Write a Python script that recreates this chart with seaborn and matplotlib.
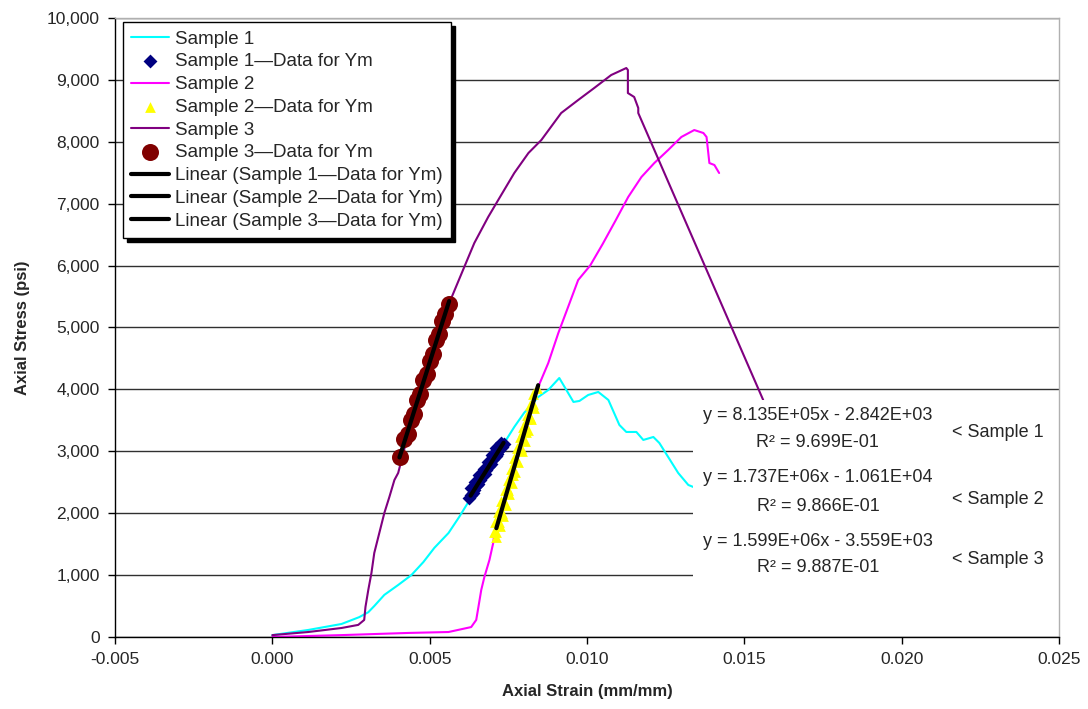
import matplotlib
matplotlib.use("Agg")
import matplotlib.pyplot as plt
from matplotlib.patches import Rectangle
import seaborn as sns

##################################################################################################
# Stress-strain data
s1_strain = [0.0, 0.00114, 0.0022, 0.00276, 0.00305, 0.00324, 0.00356, 0.0040, 0.00442, 0.0048,
             0.00515, 0.0056, 0.00594, 0.00623, 0.0066, 0.0070, 0.00737, 0.00769, 0.0080, 0.00845,
             0.00877, 0.00912, 0.00957, 0.00976, 0.01004, 0.01036, 0.01068, 0.01103, 0.01125,
             0.01157, 0.01179, 0.01211, 0.0123, 0.01258, 0.0129, 0.01322, 0.01338]
s1_stress = [30, 113, 210, 320, 400, 500, 680, 840, 1000, 1210,
             1440, 1680, 1940, 2180, 2500, 2850, 3134, 3393, 3619, 3877,
             3990, 4184, 3797, 3813, 3910, 3958, 3829, 3425, 3312,
             3312, 3183, 3231, 3134, 2908, 2649, 2456, 2423]

s2_strain = [0.0, 0.0022, 0.00432, 0.0056, 0.00632, 0.00648, 0.00655, 0.00664, 0.00674, 0.0069,
             0.00702, 0.00705, 0.0075, 0.0080, 0.00845, 0.00877, 0.00909, 0.0094, 0.00972, 0.0101,
             0.0105, 0.0109, 0.01131, 0.01173, 0.01214, 0.01258, 0.0130, 0.01341, 0.0137, 0.0138,
             0.01389, 0.01405, 0.0142]
s2_stress = [0, 30, 65, 80, 160, 275, 485, 760, 970, 1244,
             1518, 1648, 2400, 3250, 4040, 4426, 4911, 5331, 5767, 6000,
             6350, 6720, 7108, 7431, 7657, 7867, 8078, 8190, 8142, 8078,
             7657, 7625, 7496]

s3_strain = [0.0, 0.00114, 0.0022, 0.00273, 0.00292, 0.00296, 0.00305, 0.00315, 0.00324, 0.0034,
             0.00356, 0.00372, 0.00388, 0.0040, 0.0045, 0.0050, 0.0055, 0.00569, 0.0061, 0.00642,
             0.00686, 0.00718, 0.00769, 0.00814, 0.00855, 0.00918, 0.00972, 0.01023, 0.01077,
             0.01125, 0.0113, 0.0113, 0.0115, 0.01163, 0.01163, 0.0156]
s3_stress = [30, 80, 145, 195, 275, 485, 760, 1034, 1357, 1680,
             2003, 2262, 2536, 2650, 3640, 4440, 5240, 5477, 5977, 6365,
             6785, 7060, 7496, 7819, 8029, 8465, 8675, 8869, 9079,
             9192, 9160, 8788, 8724, 8546, 8465, 3829]

# points used for Young's modulus
ym1_strain = [0.00625, 0.0063, 0.00638, 0.0064, 0.0065, 0.00655, 0.0066, 0.0067, 0.00675, 0.0068,
              0.0069, 0.00695, 0.0070, 0.0071, 0.00715, 0.0072, 0.0073, 0.00735,
              0.00632, 0.00645, 0.00658, 0.00672, 0.00686, 0.00699, 0.00712, 0.00726]
ym1_stress = [2250, 2300, 2330, 2380, 2460, 2470, 2540, 2610, 2640, 2700,
              2770, 2800, 2880, 2930, 2960, 3020, 3070, 3110,
              2400, 2500, 2610, 2720, 2830, 2940, 3050, 3140]

ym2_strain = [0.00705, 0.0071, 0.00715, 0.0072, 0.00725, 0.0073, 0.00738, 0.00745, 0.0075, 0.00758,
              0.00765, 0.0077, 0.00778, 0.00785, 0.0079, 0.00798, 0.00805, 0.0081, 0.00818,
              0.00825, 0.0083, 0.0084,
              0.00712, 0.00722, 0.00732, 0.00742, 0.00752, 0.00762, 0.00772, 0.00782, 0.00792,
              0.00802, 0.00812, 0.00822, 0.00832,
              0.00708, 0.00718, 0.00728, 0.00738, 0.00748, 0.00758, 0.00768, 0.00778, 0.00788,
              0.00798, 0.00808, 0.00818, 0.00828]
ym2_stress = [1700, 1690, 1880, 1850, 2060, 2010, 2150, 2400, 2370, 2620,
              2620, 2840, 2850, 3090, 3050, 3320, 3310, 3520, 3550, 3780, 3760, 4030,
              1620, 1800, 1960, 2140, 2310, 2480, 2660, 2830, 3000, 3170, 3350, 3520, 3700,
              1850, 2020, 2190, 2370, 2540, 2710, 2890, 3060, 3230, 3400, 3580, 3750, 3920]

ym3_strain = [0.00405, 0.0042, 0.0043, 0.0044, 0.0045, 0.0046, 0.0047, 0.0048, 0.0049, 0.0050,
              0.0051, 0.0052, 0.0053, 0.0054, 0.0055, 0.0056]
ym3_stress = [2900, 3200, 3280, 3500, 3600, 3830, 3930, 4150, 4250, 4460,
              4570, 4790, 4890, 5100, 5210, 5380]

# trendline coefficients shown on the chart
fit_slope = [8.135e5, 1.737e6, 1.599e6]
fit_icept = [-2.842e3, -1.061e4, -3.559e3]
fit_range = [(0.0063, 0.00735), (0.00712, 0.00845), (0.00404, 0.00562)]
eq_labels = ["y = 8.135E+05x - 2.842E+03", "y = 1.737E+06x - 1.061E+04", "y = 1.599E+06x - 3.559E+03"]
r2_labels = ["R\u00b2 = 9.699E-01", "R\u00b2 = 9.866E-01", "R\u00b2 = 9.887E-01"]
tag_labels = ["< Sample 1", "< Sample 2", "< Sample 3"]

x_ticks = [-0.005, 0.0, 0.005, 0.010, 0.015, 0.020, 0.025]
x_tick_labels = ["-0.005", "0.000", "0.005", "0.010", "0.015", "0.020", "0.025"]
y_ticks = [0, 1000, 2000, 3000, 4000, 5000, 6000, 7000, 8000, 9000, 10000]
y_tick_labels = ["0", "1,000", "2,000", "3,000", "4,000", "5,000", "6,000", "7,000", "8,000", "9,000", "10,000"]

##################################################################################################
sns.set_style("white")
plt.rcParams['font.family'] = ['Liberation Sans', 'DejaVu Sans']

fig = plt.figure(figsize=(10.88, 7.09), dpi=100)
ax = fig.add_axes([0.1057, 0.1016, 0.8676, 0.873])

# raw curves
sns.lineplot(x=s1_strain, y=s1_stress, sort=False, estimator=None, color='#00FFFF', lw=1.5, ax=ax, label='Sample 1')
sns.lineplot(x=s2_strain, y=s2_stress, sort=False, estimator=None, color='#FF00FF', lw=1.5, ax=ax, label='Sample 2')
sns.lineplot(x=s3_strain, y=s3_stress, sort=False, estimator=None, color='#800080', lw=1.5, ax=ax, label='Sample 3')

# Ym data points
sns.scatterplot(x=ym1_strain, y=ym1_stress, marker='D', s=50, color='#000080', linewidth=0, ax=ax,
                label='Sample 1\u2014Data for Ym', zorder=3)
sns.scatterplot(x=ym2_strain, y=ym2_stress, marker='^', s=60, color='#FFFF00', linewidth=0, ax=ax,
                label='Sample 2\u2014Data for Ym', zorder=3)
sns.scatterplot(x=ym3_strain, y=ym3_stress, marker='o', s=150, color='#800000', linewidth=0, ax=ax,
                label='Sample 3\u2014Data for Ym', zorder=3)

# linear trendlines
for i in range(3):
    xs = list(fit_range[i])
    ys = [fit_slope[i] * v + fit_icept[i] for v in xs]
    sns.lineplot(x=xs, y=ys, color='black', lw=3, ax=ax, zorder=4,
                 label=f'Linear (Sample {i + 1}\u2014Data for Ym)')

# white label area for the trendline equations
ax.add_patch(Rectangle((0.01338, 650), 0.025 - 0.01338, 3829 - 650, facecolor='white',
                       edgecolor='none', zorder=2.5))
eq_y = [3586, 2569, 1535]
r2_y = [3134, 2100, 1115]
tag_y = [3296, 2213, 1244]
for i in range(3):
    ax.text(0.01734, eq_y[i], eq_labels[i], ha='center', va='center', fontsize=13, zorder=5)
    ax.text(0.01734, r2_y[i], r2_labels[i], ha='center', va='center', fontsize=13, zorder=5)
    ax.text(0.0216, tag_y[i], tag_labels[i], ha='left', va='center', fontsize=13, zorder=5)

ax.set_xlim(-0.005, 0.025)
ax.set_ylim(0, 10000)
ax.set_xticks(x_ticks)
ax.set_xticklabels(x_tick_labels, fontsize=12.5)
ax.set_yticks(y_ticks)
ax.set_yticklabels(y_tick_labels, fontsize=12.5)
ax.tick_params(axis='both', direction='out', length=5, width=1, color='black', bottom=True, left=True, pad=6)

ax.set_axisbelow(True)
ax.yaxis.grid(True, color='#303030', lw=1)
ax.xaxis.grid(False)
for side in ['left', 'bottom']:
    ax.spines[side].set_color('black')
    ax.spines[side].set_linewidth(1)
for side in ['top', 'right']:
    ax.spines[side].set_color('#B0B0B0')
    ax.spines[side].set_linewidth(1)

ax.set_xlabel("Axial Strain (mm/mm)", fontsize=12, fontweight='bold', labelpad=12)
ax.set_ylabel("Axial Stress (psi)", fontsize=12, fontweight='bold', labelpad=12)

# legend in the original order
order = ['Sample 1', 'Sample 1\u2014Data for Ym', 'Sample 2', 'Sample 2\u2014Data for Ym',
         'Sample 3', 'Sample 3\u2014Data for Ym',
         'Linear (Sample 1\u2014Data for Ym)', 'Linear (Sample 2\u2014Data for Ym)',
         'Linear (Sample 3\u2014Data for Ym)']
handles, labels = ax.get_legend_handles_labels()
lookup = dict(zip(labels, handles))
leg = ax.legend([lookup[k] for k in order], order, loc='upper left', bbox_to_anchor=(0.0085, 0.9935),
                borderaxespad=0, fontsize=13.5, frameon=True, fancybox=False, edgecolor='black',
                framealpha=1, handlelength=2.0, handletextpad=0.3, labelspacing=0.3,
                borderpad=0.45, shadow={'color': 'black', 'alpha': 1, 'ox': 3, 'oy': -3})
leg.get_frame().set_linewidth(1)

fig.savefig("out.png", dpi=100)
